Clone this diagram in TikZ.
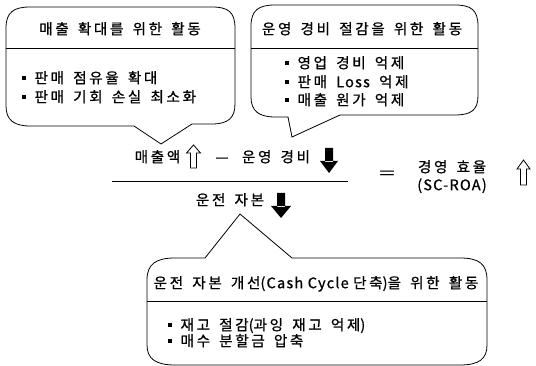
\documentclass[tikz,border=0pt]{standalone}
\usepackage{fontspec}
\setmainfont[LetterSpace=18,WordSpace=1.55,FakeBold=0.8]{Noto Sans CJK KR}
\newfontfamily\lat[LetterSpace=8,FakeBold=0.8]{Noto Sans CJK KR}
\newcommand\sqbul{\raisebox{0.22em}{\rule{3.6pt}{3.6pt}}\hspace{0.6em}}
\begin{document}
\begin{tikzpicture}[x=1pt,y=-1pt,
  bub/.style={draw=black, line width=0.8pt},
  txt/.style={inner sep=0pt, font=\fontsize{14.6pt}{16pt}\selectfont, text height=10.5pt, text depth=2pt},
  lft/.style={txt, anchor=west},
  hollow/.style={draw=black, line width=0.8pt, fill=white},
  solid/.style={fill=black}]
\useasboundingbox (0,0) rectangle (536,366);
% top-left bubble
\draw[bub] (6,28) .. controls (6,12) and (14,7) .. (30,7) -- (212,7)
  .. controls (228,7) and (235,12) .. (235,28) -- (235,104)
  .. controls (235,118) and (228,124) .. (212,124) -- (192,124) -- (161,144) -- (134,126)
  -- (30,126) .. controls (14,126) and (6,120) .. (6,106) -- cycle;
\draw[bub] (6,48) -- (235,48);
\node[txt] (t1) at (120,30) {매출 확대를 위한 활동};
\node[lft] (t1a) at (22,79) {\sqbul 판매 점유율 확대};
\node[lft] (t1b) at (22,98) {\sqbul 판매 기회 손실 최소화};
% top-right bubble
\draw[bub] (251,26) .. controls (251,10) and (259,5) .. (275,5) -- (455,5)
  .. controls (471,5) and (478,10) .. (478,26) -- (478,96)
  .. controls (478,110) and (471,115) .. (455,115) -- (340,115) -- (292,137) -- (288,117)
  -- (275,117) .. controls (259,117) and (251,111) .. (251,97) -- cycle;
\draw[bub] (251,48) -- (478,48);
\node[txt] (t2) at (362,30) {운영 경비 절감을 위한 활동};
\node[lft] (t2a) at (285,64) {\sqbul 영업 경비 억제};
\node[lft] (t2b) at (285,83) {\sqbul 판매 {\lat Loss} 억제};
\node[lft] (t2c) at (285,101) {\sqbul 매출 원가 억제};
% bottom bubble
\draw[bub] (147,280) .. controls (147,264) and (156,258) .. (175,258) -- (205,258) -- (240,214) -- (292,258)
  -- (460,258) .. controls (479,258) and (487,264) .. (487,280) -- (487,345)
  .. controls (487,359) and (479,365) .. (460,365) -- (175,365)
  .. controls (156,365) and (147,359) .. (147,345) -- cycle;
\draw[bub] (147,301) -- (487,301);
\node[txt] (t3) at (316,284) {운전 자본 개선{\lat (Cash Cycle }단축{\lat )}을 위한 활동};
\node[lft] (t3a) at (168,326) {\sqbul 재고 절감{\lat (}과잉 재고 억제{\lat )}};
\node[lft] (t3b) at (168,342) {\sqbul 매수 분할금 압축};
% middle formula
\node[txt] (sales) at (157.5,158) {매출액};
\draw[hollow] (193.5,145) -- (200.5,153) -- (196.5,153) -- (196.5,168) -- (190.5,168) -- (190.5,153) -- (186.5,153) -- cycle;
\node[txt] (dash) at (222,158) {\lat —};
\node[txt] (cost) at (276,158) {운영 경비};
\fill[solid] (325,148) rectangle (333,162) (320,161) -- (338,161) -- (329,173) -- cycle;
\draw[line width=0.9pt] (112,181) -- (348,181);
\node[txt] (wc) at (230,201) {운전 자본};
\fill[solid] (277,193) rectangle (285,207) (271,206) -- (291,206) -- (281,218) -- cycle;
\node[txt, xscale=1.9] (eq) at (387,174) {\lat =};
\node[txt] (eff) at (452,168) {경영 효율};
\node[txt] (roa) at (452,186) {\lat (SC-ROA)};
\draw[hollow] (523.5,160) -- (530,169) -- (526.5,169) -- (526.5,185) -- (520.5,185) -- (520.5,169) -- (517,169) -- cycle;
\end{tikzpicture}
\end{document}
